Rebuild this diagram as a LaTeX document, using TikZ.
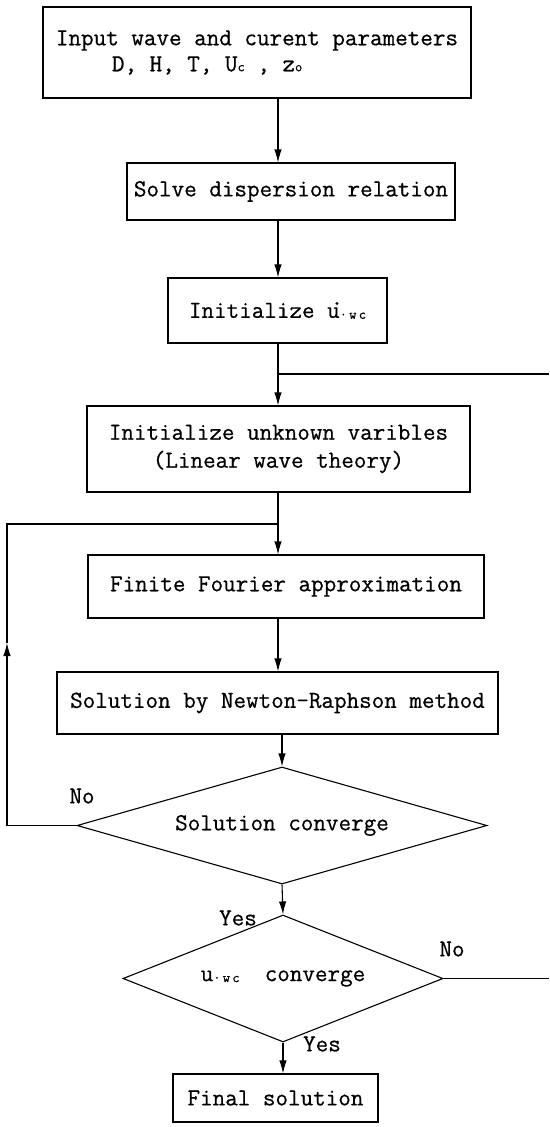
\documentclass[tikz,border=0pt]{standalone}
\usepackage{fontspec}
\setmonofont{Latin Modern Mono}[FakeBold=0.6]
\usetikzlibrary{arrows.meta,shapes.geometric}
\newcommand{\sm}[1]{{\fontsize{14}{14}\selectfont #1}}
\tikzset{
  every node/.style={font=\fontsize{24.4}{30}\selectfont\ttfamily},
  box/.style={draw, line width=1.1pt, inner sep=0pt, rectangle},
  dec/.style={draw, line width=1.1pt, inner sep=0pt, diamond},
  conn/.style={line width=1.1pt},
  arr/.style={line width=1.1pt, -{Latex[length=13pt,width=7.5pt]}},
  lbl/.style={inner sep=0pt}
}
\begin{document}
\begin{tikzpicture}[x=1pt,y=-1pt]
\useasboundingbox (0,0) rectangle (549,1127);
\fill[white] (0,0) rectangle (549,1127);
\coordinate (ax) at (278,0);
% boxes
\node[box, minimum width=428pt, minimum height=91pt, align=left] (b1) at (257,52.5)
  {Input wave and curent parameters\\[-4pt]\hspace*{56pt}D, H, T, U\sm{c} , z\sm{o}};
\node[box, minimum width=328pt, minimum height=57pt] (b2) at (291,191.5) {Solve dispersion relation};
\node[box, minimum width=219pt, minimum height=65pt] (b3) at (277.5,310.5)
  {Initialize \makebox[0pt][l]{\hspace{3.5pt}\raisebox{13pt}{.}}u\raisebox{-1pt}{\sm{·\,w\,c}}};
\node[box, minimum width=383pt, minimum height=86pt, align=center] (b4) at (278.5,449)
  {Initialize unknown varibles\\[-2pt](Linear wave theory)};
\node[box, minimum width=396pt, minimum height=63pt] (b5) at (286,586.5) {Finite Fourier approximation};
\node[box, minimum width=441pt, minimum height=62pt] (b6) at (277.5,703) {Solution by Newton-Raphson method};
\node[dec, minimum width=410pt, minimum height=117pt, aspect=3.5] (d1) at (282,825.5) {Solution converge};
\node[dec, minimum width=320pt, minimum height=127pt, aspect=2.5] (d2) at (283,978.5)
  {u\raisebox{-1pt}{\sm{·\,w\,c}}\ \ converge};
\node[box, minimum width=205pt, minimum height=48pt] (b7) at (275.5,1098) {Final solution};
% labels
\node[lbl] (n1) at (82,796) {No};
\node[lbl] (y1) at (238,918) {Yes};
\node[lbl] (n2) at (452,949) {No};
\node[lbl] (y2) at (322,1044) {Yes};
% coordinates
\coordinate (j1) at (278,374);
\coordinate (r1) at (549,374);
\coordinate (j2) at (278,524);
\coordinate (l1) at (7,825.5);
\coordinate (l2) at (7,643);
\coordinate (l3) at (7,524);
\coordinate (r2) at (549,978.5);
% connectors
\draw[arr] (b1.south -| ax) -- (b2.north -| ax);
\draw[arr] (b2.south -| ax) -- (b3.north -| ax);
\draw[arr] (b3.south -| ax) -- (b4.north -| ax);
\draw[conn] (j1) -- (r1);
\draw[arr] (b4.south -| ax) -- (b5.north -| ax);
\draw[arr] (b5.south -| ax) -- (b6.north -| ax);
\draw[arr] (b6.south -| d1.north) -- (d1.north);
\draw[arr] (d1.south) -- (d2.north);
\draw[arr] (d2.south) -- (d2.south |- b7.north);
\draw[conn] (d2.east) -- (r2);
\draw[conn] (d1.west) -- (l1);
\draw[arr] (l1) -- (l2);
\draw[conn] (l2) -- (l3) -- (j2);
\end{tikzpicture}
\end{document}
